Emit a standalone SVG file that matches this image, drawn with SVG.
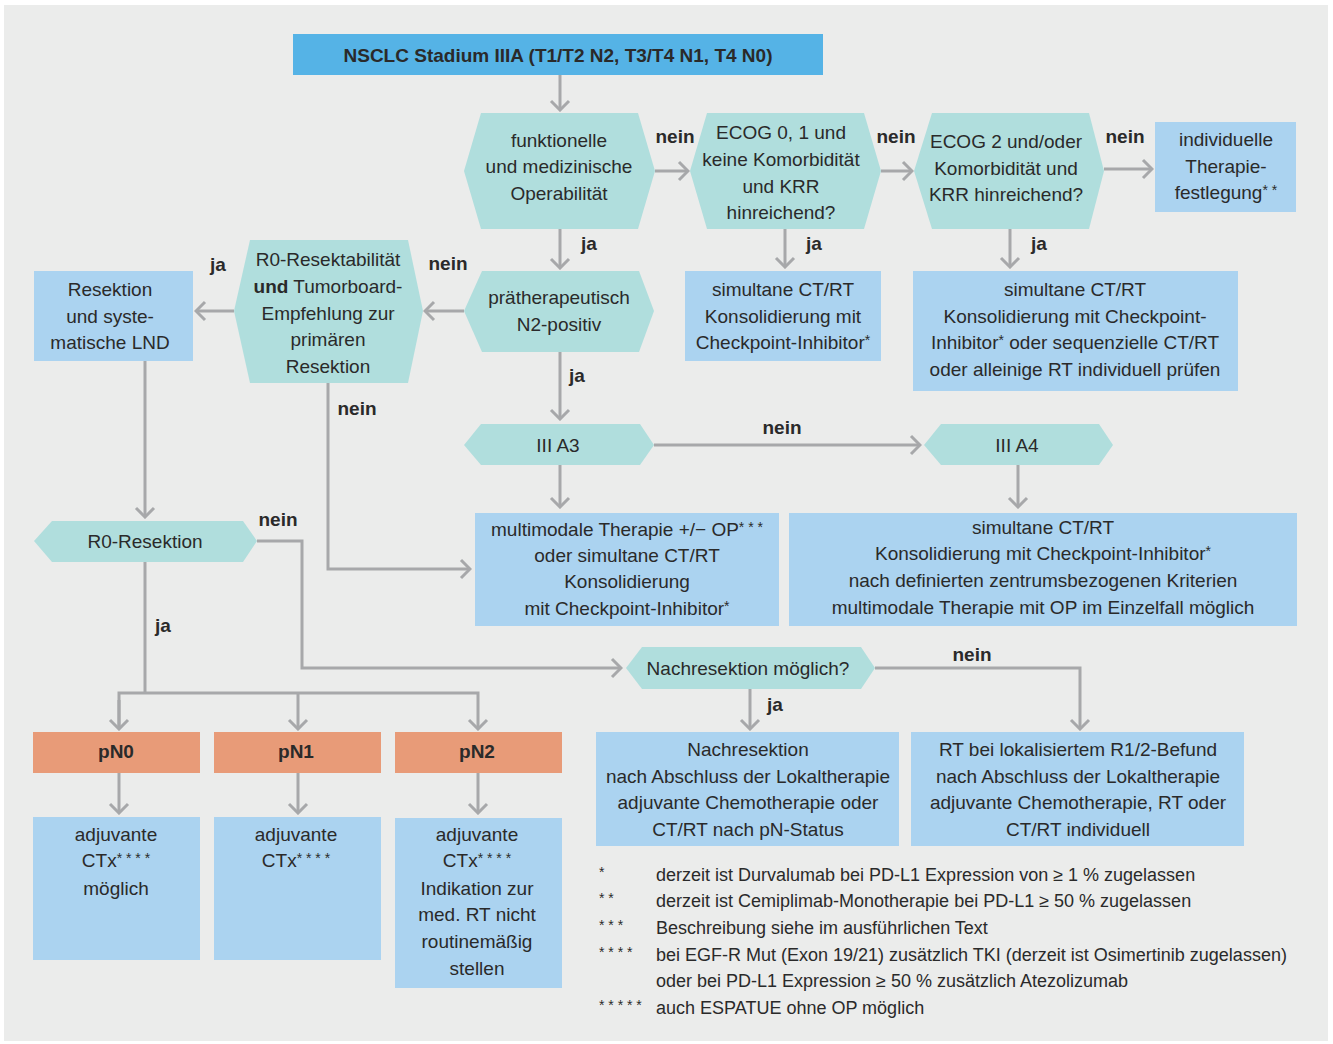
<svg xmlns="http://www.w3.org/2000/svg" width="1333" height="1044" viewBox="0 0 1333 1044">
  <style>
    .bg { fill: #ebeceb; }
    .title { fill: #55b3e6; }
    .hex { fill: #b0dedd; }
    .box { fill: #abd3f0; }
    .pn { fill: #e89b78; }
    .conn { fill: none; stroke: #a7a8aa; stroke-width: 3; }
    text { font-family: "Liberation Sans", Arial, sans-serif; font-size: 19px; fill: #2a2a2a; text-anchor: middle; }
    .b { font-weight: bold; }
    .lbl { font-weight: bold; font-size: 19px; }
    .fn { font-size: 18px; text-anchor: start; }
    .st { font-size: 14px; }
  </style>
  <defs>
    <marker id="arrow" markerUnits="userSpaceOnUse" viewBox="-12 -11 14 22" markerWidth="14" markerHeight="22" refX="0" refY="0" orient="auto">
      <path d="M-9,-9 L0,0 L-9,9" fill="none" stroke="#a7a8aa" stroke-width="3"/>
    </marker>
  </defs>

  <rect class="bg" x="4" y="5" width="1324" height="1036"/>

  <!-- connectors -->
  <g id="connectors">
    <path class="conn" d="M560,75 V110" marker-end="url(#arrow)"/>
    <path class="conn" d="M655,171 H688" marker-end="url(#arrow)"/>
    <path class="conn" d="M881,171 H912" marker-end="url(#arrow)"/>
    <path class="conn" d="M1104,169 H1152" marker-end="url(#arrow)"/>
    <path class="conn" d="M560,229 V268" marker-end="url(#arrow)"/>
    <path class="conn" d="M785,229 V267" marker-end="url(#arrow)"/>
    <path class="conn" d="M1010,229 V267" marker-end="url(#arrow)"/>
    <path class="conn" d="M464,311 H425" marker-end="url(#arrow)"/>
    <path class="conn" d="M234,311 H196" marker-end="url(#arrow)"/>
    <path class="conn" d="M560,352 V419" marker-end="url(#arrow)"/>
    <path class="conn" d="M654,445 H920" marker-end="url(#arrow)"/>
    <path class="conn" d="M560,465 V507" marker-end="url(#arrow)"/>
    <path class="conn" d="M1018,465 V507" marker-end="url(#arrow)"/>
    <path class="conn" d="M328,383 V569 H470" marker-end="url(#arrow)"/>
    <path class="conn" d="M145,361 V517" marker-end="url(#arrow)"/>
    <path class="conn" d="M257,541 H302 V668 H621" marker-end="url(#arrow)"/>
    <path class="conn" d="M145,562 V693"/>
    <path class="conn" d="M119,729 V693 H478 V729" marker-end="url(#arrow)"/>
    <path class="conn" d="M119,700 V729" marker-end="url(#arrow)"/>
    <path class="conn" d="M298,693 V729" marker-end="url(#arrow)"/>
    <path class="conn" d="M750,689 V729" marker-end="url(#arrow)"/>
    <path class="conn" d="M875,668 H1080 V729" marker-end="url(#arrow)"/>
    <path class="conn" d="M119,773 V813" marker-end="url(#arrow)"/>
    <path class="conn" d="M298,773 V813" marker-end="url(#arrow)"/>
    <path class="conn" d="M478,773 V813" marker-end="url(#arrow)"/>

    <text class="lbl" x="675" y="143">nein</text>
    <text class="lbl" x="896" y="143">nein</text>
    <text class="lbl" x="1125" y="143">nein</text>
    <text class="lbl" x="589" y="250">ja</text>
    <text class="lbl" x="814" y="250">ja</text>
    <text class="lbl" x="1039" y="250">ja</text>
    <text class="lbl" x="218" y="271">ja</text>
    <text class="lbl" x="448" y="270">nein</text>
    <text class="lbl" x="577" y="382">ja</text>
    <text class="lbl" x="357" y="415">nein</text>
    <text class="lbl" x="782" y="434">nein</text>
    <text class="lbl" x="278" y="526">nein</text>
    <text class="lbl" x="163" y="632">ja</text>
    <text class="lbl" x="972" y="661">nein</text>
    <text class="lbl" x="775" y="711">ja</text>
  </g>

  <g id="start">
    <rect class="title" x="293" y="34" width="530" height="41"/>
    <text class="b" x="558" y="62">NSCLC Stadium IIIA (T1/T2 N2, T3/T4 N1, T4 N0)</text>
  </g>

  <g id="operabilitaet">
    <polygon class="hex" points="464,171 481,113 638,113 655,171 638,229 481,229"/>
    <text x="559" y="147">funktionelle</text>
    <text x="559" y="173">und medizinische</text>
    <text x="559" y="200">Operabilität</text>
  </g>

  <g id="ecog01">
    <polygon class="hex" points="690,171 707,113 864,113 881,171 864,229 707,229"/>
    <text x="781" y="139">ECOG 0, 1 und</text>
    <text x="781" y="166">keine Komorbidität</text>
    <text x="781" y="193">und KRR</text>
    <text x="781" y="219">hinreichend?</text>
  </g>

  <g id="ecog2">
    <polygon class="hex" points="914,171 932,113 1089,113 1104,171 1089,229 932,229"/>
    <text x="1006" y="148">ECOG 2 und/oder</text>
    <text x="1006" y="175">Komorbidität und</text>
    <text x="1006" y="201">KRR hinreichend?</text>
  </g>

  <g id="individuell">
    <rect class="box" x="1155" y="122" width="141" height="90"/>
    <text x="1226" y="146">individuelle</text>
    <text x="1226" y="173">Therapie-</text>
    <text x="1226" y="199">festlegung<tspan class="st" dy="-4">* *</tspan></text>
  </g>

  <g id="ctrt-ecog01">
    <rect class="box" x="685" y="271" width="196" height="90"/>
    <text x="783" y="296">simultane CT/RT</text>
    <text x="783" y="323">Konsolidierung mit</text>
    <text x="783" y="349">Checkpoint-Inhibitor<tspan class="st" dy="-4">*</tspan></text>
  </g>

  <g id="ctrt-ecog2">
    <rect class="box" x="913" y="271" width="325" height="120"/>
    <text x="1075" y="296">simultane CT/RT</text>
    <text x="1075" y="323">Konsolidierung mit Checkpoint-</text>
    <text x="1075" y="349">Inhibitor<tspan class="st" dy="-4">*</tspan><tspan dy="4"> oder sequenzielle CT/RT</tspan></text>
    <text x="1075" y="376">oder alleinige RT individuell prüfen</text>
  </g>

  <g id="n2-positiv">
    <polygon class="hex" points="464,311 482,271 639,271 654,311 639,352 482,352"/>
    <text x="559" y="304">prätherapeutisch</text>
    <text x="559" y="331">N2-positiv</text>
  </g>

  <g id="r0-resektabilitaet">
    <polygon class="hex" points="234,311 250,240 408,240 423,311 408,383 250,383"/>
    <text x="328" y="266">R0-Resektabilität</text>
    <text x="328" y="293"><tspan class="b">und</tspan> Tumorboard-</text>
    <text x="328" y="320">Empfehlung zur</text>
    <text x="328" y="346">primären</text>
    <text x="328" y="373">Resektion</text>
  </g>

  <g id="resektion-lnd">
    <rect class="box" x="34" y="271" width="159" height="90"/>
    <text x="110" y="296">Resektion</text>
    <text x="110" y="323">und syste-</text>
    <text x="110" y="349">matische LND</text>
  </g>

  <g id="iiia3">
    <polygon class="hex" points="464,445 481,424 640,424 654,445 640,465 481,465"/>
    <text x="558" y="452">III A3</text>
  </g>

  <g id="iiia4">
    <polygon class="hex" points="924,445 941,424 1099,424 1113,445 1099,465 941,465"/>
    <text x="1017" y="452">III A4</text>
  </g>

  <g id="therapie-iiia3">
    <rect class="box" x="475" y="513" width="304" height="113"/>
    <text x="627" y="536">multimodale Therapie +/− OP<tspan class="st" dy="-4">* * *</tspan></text>
    <text x="627" y="562">oder simultane CT/RT</text>
    <text x="627" y="588">Konsolidierung</text>
    <text x="627" y="615">mit Checkpoint-Inhibitor<tspan class="st" dy="-4">*</tspan></text>
  </g>

  <g id="therapie-iiia4">
    <rect class="box" x="789" y="513" width="508" height="113"/>
    <text x="1043" y="534">simultane CT/RT</text>
    <text x="1043" y="560">Konsolidierung mit Checkpoint-Inhibitor<tspan class="st" dy="-4">*</tspan></text>
    <text x="1043" y="587">nach definierten zentrumsbezogenen Kriterien</text>
    <text x="1043" y="614">multimodale Therapie mit OP im Einzelfall möglich</text>
  </g>

  <g id="r0-resektion">
    <polygon class="hex" points="34,541 52,521 243,521 257,541 243,562 52,562"/>
    <text x="145" y="548">R0-Resektion</text>
  </g>

  <g id="nachresektion-frage">
    <polygon class="hex" points="626,668 642,647 861,647 875,668 861,689 642,689"/>
    <text x="748" y="675">Nachresektion möglich?</text>
  </g>

  <g id="nachresektion">
    <rect class="box" x="596" y="732" width="303" height="114"/>
    <text x="748" y="756">Nachresektion</text>
    <text x="748" y="783">nach Abschluss der Lokaltherapie</text>
    <text x="748" y="809">adjuvante Chemotherapie oder</text>
    <text x="748" y="836">CT/RT nach pN-Status</text>
  </g>

  <g id="rt-r1">
    <rect class="box" x="911" y="732" width="333" height="114"/>
    <text x="1078" y="756">RT bei lokalisiertem R1/2-Befund</text>
    <text x="1078" y="783">nach Abschluss der Lokaltherapie</text>
    <text x="1078" y="809">adjuvante Chemotherapie, RT oder</text>
    <text x="1078" y="836">CT/RT individuell</text>
  </g>

  <g id="pn0">
    <rect class="pn" x="33" y="732" width="167" height="41"/>
    <text class="b" x="116" y="758">pN0</text>
  </g>
  <g id="pn1">
    <rect class="pn" x="214" y="732" width="167" height="41"/>
    <text class="b" x="296" y="758">pN1</text>
  </g>
  <g id="pn2">
    <rect class="pn" x="395" y="732" width="167" height="41"/>
    <text class="b" x="477" y="758">pN2</text>
  </g>

  <g id="pn0-therapie">
    <rect class="box" x="33" y="817" width="167" height="143"/>
    <text x="116" y="841">adjuvante</text>
    <text x="116" y="867">CTx<tspan class="st" dy="-4">* * * *</tspan></text>
    <text x="116" y="895">möglich</text>
  </g>
  <g id="pn1-therapie">
    <rect class="box" x="214" y="817" width="167" height="143"/>
    <text x="296" y="841">adjuvante</text>
    <text x="296" y="867">CTx<tspan class="st" dy="-4">* * * *</tspan></text>
  </g>
  <g id="pn2-therapie">
    <rect class="box" x="395" y="818" width="167" height="170"/>
    <text x="477" y="841">adjuvante</text>
    <text x="477" y="867">CTx<tspan class="st" dy="-4">* * * *</tspan></text>
    <text x="477" y="895">Indikation zur</text>
    <text x="477" y="921">med. RT nicht</text>
    <text x="477" y="948">routinemäßig</text>
    <text x="477" y="975">stellen</text>
  </g>

  <!-- footnotes -->
  <g id="footnotes">
    <text class="fn st" x="599" y="877">*</text>
    <text class="fn" x="656" y="881">derzeit ist Durvalumab bei PD-L1 Expression von ≥ 1 % zugelassen</text>
    <text class="fn st" x="599" y="903">* *</text>
    <text class="fn" x="656" y="907">derzeit ist Cemiplimab-Monotherapie bei PD-L1 ≥ 50 % zugelassen</text>
    <text class="fn st" x="599" y="930">* * *</text>
    <text class="fn" x="656" y="934">Beschreibung siehe im ausführlichen Text</text>
    <text class="fn st" x="599" y="957">* * * *</text>
    <text class="fn" x="656" y="961">bei EGF-R Mut (Exon 19/21) zusätzlich TKI (derzeit ist Osimertinib zugelassen)</text>
    <text class="fn" x="656" y="987">oder bei PD-L1 Expression ≥ 50 % zusätzlich Atezolizumab</text>
    <text class="fn st" x="599" y="1010">* * * * *</text>
    <text class="fn" x="656" y="1014">auch ESPATUE ohne OP möglich</text>
  </g>
</svg>
